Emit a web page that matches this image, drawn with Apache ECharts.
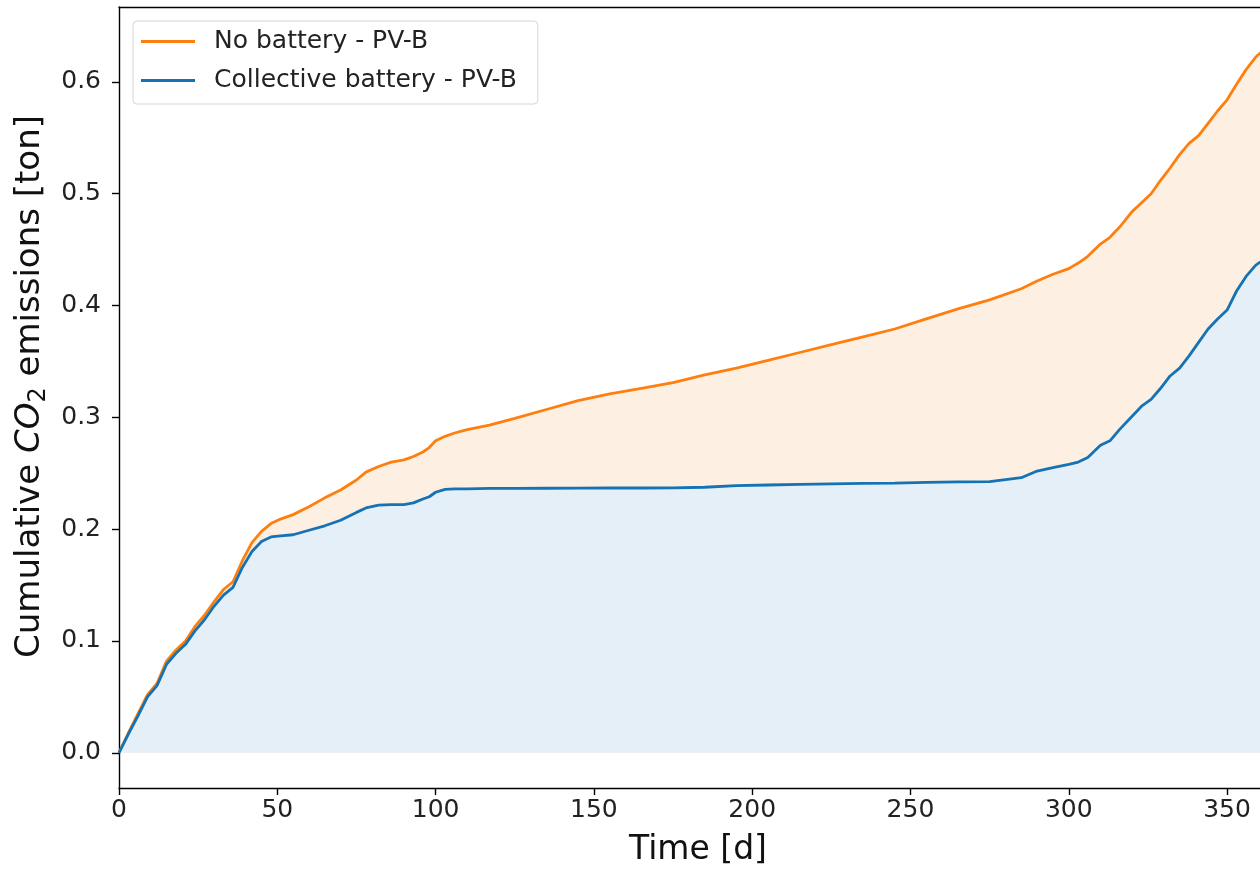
<!DOCTYPE html>
<html>
<head>
<meta charset="utf-8">
<script src="https://cdn.jsdelivr.net/npm/echarts@6/dist/echarts.min.js"></script>
<style>
html,body{margin:0;padding:0;background:#fff;}
#chart{width:1260px;height:872px;}
</style>
</head>
<body>
<div id="chart"></div>
<script>
// ---- data ----
const days = [0,3,6,9,12,15,18,21,24,27,30,33,36,39,42,45,48,51,55,60,65,70,75,78,82,86,90,93,96,98,100,103,106,110,117,125,135,145,155,165,175,185,195,205,215,225,235,245,255,265,275,285,290,295,300,303,306,310,313,316,320,323,326,329,332,335,338,341,344,347,350,353,356,359,362,365];
const noBattery = [0,0.018,0.035,0.052,0.062,0.082,0.092,0.100,0.113,0.123,0.135,0.146,0.153,0.172,0.188,0.198,0.205,0.209,0.213,0.220,0.228,0.235,0.244,0.251,0.256,0.260,0.262,0.265,0.269,0.273,0.279,0.283,0.286,0.289,0.293,0.299,0.307,0.315,0.321,0.326,0.331,0.338,0.344,0.351,0.358,0.365,0.372,0.379,0.388,0.397,0.405,0.415,0.422,0.428,0.433,0.438,0.444,0.455,0.461,0.470,0.484,0.492,0.500,0.512,0.523,0.535,0.545,0.552,0.563,0.574,0.584,0.598,0.611,0.622,0.630,0.636];
const collective = [0,0.017,0.033,0.050,0.060,0.079,0.089,0.097,0.109,0.119,0.131,0.141,0.148,0.166,0.180,0.189,0.193,0.194,0.195,0.199,0.203,0.208,0.215,0.219,0.2215,0.222,0.222,0.2235,0.227,0.229,0.233,0.2355,0.236,0.236,0.2365,0.2365,0.2366,0.2367,0.2368,0.2368,0.2369,0.2375,0.239,0.2395,0.240,0.2405,0.241,0.2412,0.2418,0.2422,0.2425,0.246,0.252,0.255,0.258,0.260,0.264,0.275,0.279,0.289,0.301,0.310,0.316,0.326,0.337,0.344,0.355,0.367,0.379,0.388,0.396,0.413,0.426,0.436,0.442,0.448];
const xTicks = [0,50,100,150,200,250,300,350];
const yTicks = [0,0.1,0.2,0.3,0.4,0.5,0.6];
const seriesNames = ['No battery - PV-B','Collective battery - PV-B'];

const orange = '#ff7f0e', blue = '#1572b4';
const pair = (xs, ys) => xs.map((x, i) => [x, ys[i]]);
const FONT = 'DejaVu Sans';
const XMIN = 0, XMAX = 360.4, YMIN = -0.0315, YMAX = 0.667;

const chart = echarts.init(document.getElementById('chart'), null, {renderer:'canvas'});
chart.setOption({
  animation:false,
  backgroundColor:'#ffffff',
  textStyle:{fontFamily:FONT},
  grid:{left:119, top:7, right:0, bottom:79, show:false},
  legend:{
    left:133, top:21, orient:'vertical',
    data:[{name:seriesNames[0]},{name:seriesNames[1]}],
    icon:'rect', itemWidth:54, itemHeight:2.8, itemGap:10,
    padding:[6,21,9,8],
    backgroundColor:'rgba(255,255,255,0.8)', borderColor:'#d6d6d6', borderWidth:1, borderRadius:4,
    textStyle:{fontFamily:FONT, fontSize:25, color:'#222', lineHeight:29, padding:[0,0,0,14]}
  },
  xAxis:[{
    type:'value', min:XMIN, max:XMAX,
    name:'Time [d]', nameLocation:'middle', nameGap:46,
    nameTextStyle:{fontFamily:FONT, fontSize:33, color:'#111', padding:[0,0,0,17]},
    axisLine:{show:true, onZero:false, lineStyle:{color:'#000', width:1.4}},
    axisTick:{show:true, length:7, customValues:xTicks, lineStyle:{color:'#000', width:1.4}},
    axisLabel:{customValues:xTicks, fontFamily:FONT, fontSize:25, color:'#222', margin:10},
    splitLine:{show:false}
  },{
    type:'value', min:XMIN, max:XMAX, position:'top',
    axisLine:{show:true, onZero:false, lineStyle:{color:'#000', width:1.4}},
    axisTick:{show:false}, axisLabel:{show:false}, splitLine:{show:false}
  }],
  yAxis:{
    type:'value', min:YMIN, max:YMAX,
    name:'{n|Cumulative }{i|CO}{s|2}{n| emissions [ton]}', nameLocation:'middle', nameGap:67, nameRotate:90,
    nameTextStyle:{fontFamily:FONT, fontSize:34, color:'#111', padding:[0,0,0,22],
      rich:{
        n:{fontFamily:FONT, fontSize:34, color:'#111', lineHeight:41},
        i:{fontFamily:FONT, fontSize:34, fontStyle:'italic', color:'#111', lineHeight:41},
        s:{fontFamily:FONT, fontSize:24, color:'#111', lineHeight:41, padding:[16,0,0,0]}
      }},
    axisLine:{show:true, onZero:false, lineStyle:{color:'#000', width:1.4}},
    axisTick:{show:true, length:7, customValues:yTicks, lineStyle:{color:'#000', width:1.4}},
    axisLabel:{customValues:yTicks, fontFamily:FONT, fontSize:25, color:'#222', margin:18,
      formatter:v => v.toFixed(1)},
    splitLine:{show:false}
  },
  series:[
    {
      name:seriesNames[0], type:'line', data:pair(days, noBattery),
      showSymbol:false, symbol:'none', color:orange,
      lineStyle:{color:orange, width:2.8},
      itemStyle:{color:orange},
      areaStyle:{color:'#fdf0e3', opacity:1, origin:0},
      z:2
    },
    {
      name:seriesNames[1], type:'line', data:pair(days, collective),
      showSymbol:false, symbol:'none', color:blue,
      lineStyle:{color:blue, width:2.8},
      itemStyle:{color:blue},
      areaStyle:{color:'#e4eff7', opacity:1, origin:0},
      z:3
    }
  ]
});
</script>
</body>
</html>
